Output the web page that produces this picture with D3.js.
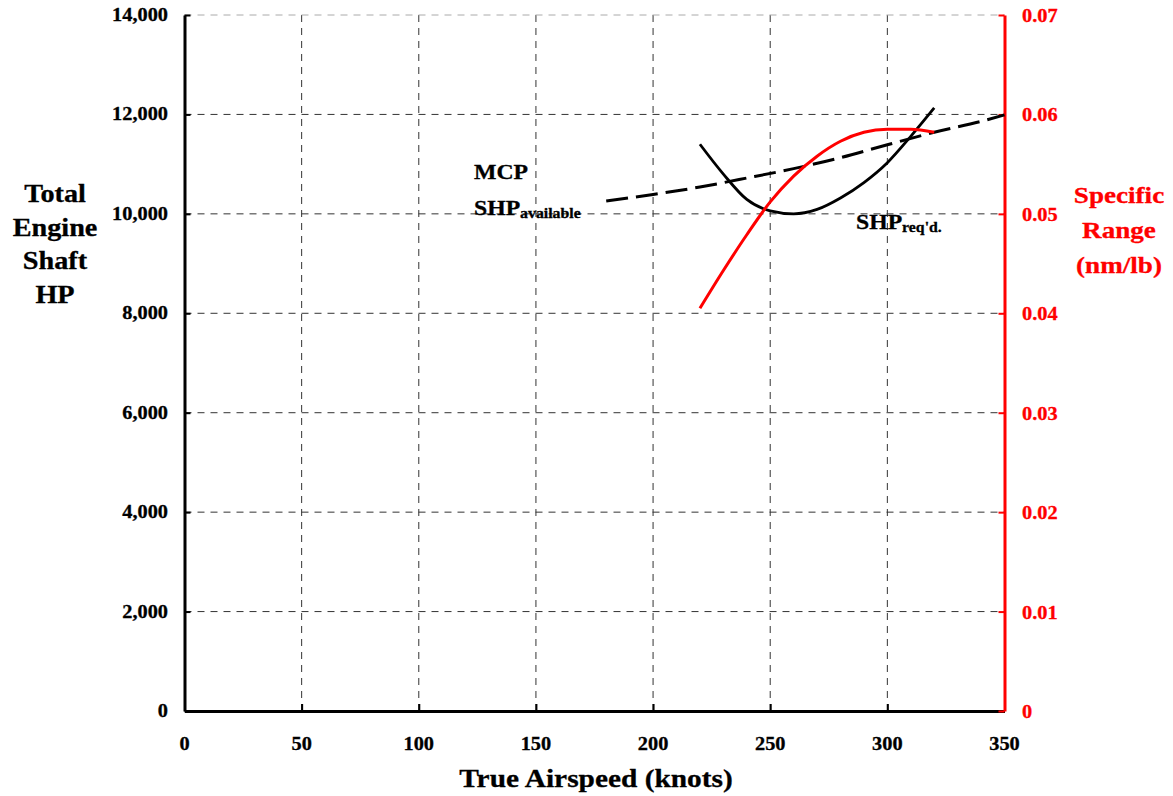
<!DOCTYPE html>
<html><head><meta charset="utf-8">
<script src="https://cdn.jsdelivr.net/npm/d3@7"></script>
<style>body{margin:0;background:#fff}svg{display:block}</style>
</head><body><svg id="c" width="1173" height="796"></svg>
<script>
// ---- data ----
const xTicks = [0,50,100,150,200,250,300,350];
const yTicks = [0,2000,4000,6000,8000,10000,12000,14000];
const y2Ticks = [0,0.01,0.02,0.03,0.04,0.05,0.06,0.07];
const y2TickLabels = ["0","0.01","0.02","0.03","0.04","0.05","0.06","0.07"];
const reqSpeed = [220,230,240,250,260,270,280,290,300,310,320];
const reqSHP   = [11400,10800,10290,10060,10000,10090,10320,10630,11030,11560,12130];
const availSpeed = [180,200,220,240,260,280,300,320,340,350];
const availSHP   = [10260,10390,10540,10720,10910,11130,11390,11640,11860,11990];
const srSpeed = [220,230,240,250,260,270,280,290,300,310,320];
const srValue = [0.0405,0.0443,0.0479,0.0512,0.0538,0.0558,0.0573,0.0582,0.0585,0.0585,0.0582];

const svg = d3.select("#c");
const FONT = "'Liberation Serif','Times New Roman',serif";
const SX = 1.13;
const x = d3.scaleLinear().domain([0,350]).range([184.5,1004.5]);
const y = d3.scaleLinear().domain([0,14000]).range([711,15]);
const y2 = d3.scaleLinear().domain([0,0.07]).range([711,15]);

function txt(px, py, s, size, anchor, color){
  return svg.append("text")
    .attr("transform", `translate(${px},${py}) scale(${SX},1)`)
    .attr("text-anchor", anchor).attr("font-family", FONT)
    .attr("font-weight","bold").attr("font-size", size)
    .attr("fill", color||"#000").attr("stroke", color||"#000").attr("stroke-width",0.3)
    .text(s);
}

// grid
const g = svg.append("g");
g.selectAll("line.v").data(xTicks.filter(d=>d>0 && d<350)).join("line")
  .attr("x1",d=>x(d)).attr("x2",d=>x(d)).attr("y1",y(0)).attr("y2",y(14000))
  .attr("stroke","#333").attr("stroke-width",1).attr("stroke-dasharray","7,6");
g.selectAll("line.h").data(yTicks.filter(d=>d>0)).join("line")
  .attr("x1",x(0)).attr("x2",x(350)).attr("y1",d=>y(d)).attr("y2",d=>y(d))
  .attr("stroke",d=>d===14000?"#aaa":"#333").attr("stroke-width",1).attr("stroke-dasharray","7,6");

// axes
const axL = svg.append("g").attr("transform",`translate(${x(0)},0)`)
  .call(d3.axisLeft(y).tickValues(yTicks).tickSize(-6).tickSizeOuter(0).tickFormat(""));
axL.select(".domain").attr("stroke","#000").attr("stroke-width",3);
axL.selectAll(".tick line").attr("stroke","#000").attr("stroke-width",2);
const axB = svg.append("g").attr("transform",`translate(0,${y(0)})`)
  .call(d3.axisBottom(x).tickValues(xTicks).tickSize(-7).tickSizeOuter(0).tickFormat(""));
axB.select(".domain").attr("stroke","#000").attr("stroke-width",3);
axB.selectAll(".tick line").attr("stroke","#000").attr("stroke-width",2);
const axR = svg.append("g").attr("transform",`translate(${x(350)},0)`)
  .call(d3.axisRight(y2).tickValues(y2Ticks).tickSize(-6).tickSizeOuter(0).tickFormat(""));
axR.select(".domain").attr("stroke","#f00").attr("stroke-width",3);
axR.selectAll(".tick line").attr("stroke","#f00").attr("stroke-width",2);

// tick labels
yTicks.forEach(d=>txt(168, y(d)+6, d3.format(",")(d), 18, "end"));
xTicks.forEach(d=>txt(x(d), 750, String(d), 18, "middle"));
y2Ticks.forEach((d,i)=>txt(1022, y2(d)+7, y2TickLabels[i], 18, "start", "#f00"));

// lines
const curve = d3.curveMonotoneX;
svg.append("path").datum(availSpeed.map((s,i)=>[s,availSHP[i]]))
  .attr("d", d3.line().x(d=>x(d[0])).y(d=>y(d[1])).curve(curve))
  .attr("fill","none").attr("stroke","#000").attr("stroke-width",3).attr("stroke-dasharray","22,8");
svg.append("path").datum(reqSpeed.map((s,i)=>[s,reqSHP[i]]))
  .attr("d", d3.line().x(d=>x(d[0])).y(d=>y(d[1])).curve(curve))
  .attr("fill","none").attr("stroke","#000").attr("stroke-width",2.8);
svg.append("path").datum(srSpeed.map((s,i)=>[s,srValue[i]]))
  .attr("d", d3.line().x(d=>x(d[0])).y(d=>y2(d[1])).curve(curve))
  .attr("fill","none").attr("stroke","#f00").attr("stroke-width",3);

// axis titles
["Total","Engine","Shaft","HP"].forEach((s,i)=>txt(55, 202+i*33.7, s, 25, "middle"));
["Specific","Range","(nm/lb)"].forEach((s,i)=>txt(1119, 203+i*35, s, 24, "middle", "#f00"));
txt(596, 787, "True Airspeed (knots)", 26, "middle");

// annotations
txt(474, 179, "MCP", 21, "start");
const t1 = txt(474, 215, "SHP", 21, "start");
t1.append("tspan").attr("font-size",14).attr("dy",3).text("available");
const t2 = txt(856, 229, "SHP", 21, "start");
t2.append("tspan").attr("font-size",14).attr("dy",3).text("req'd.");
</script></body></html>
